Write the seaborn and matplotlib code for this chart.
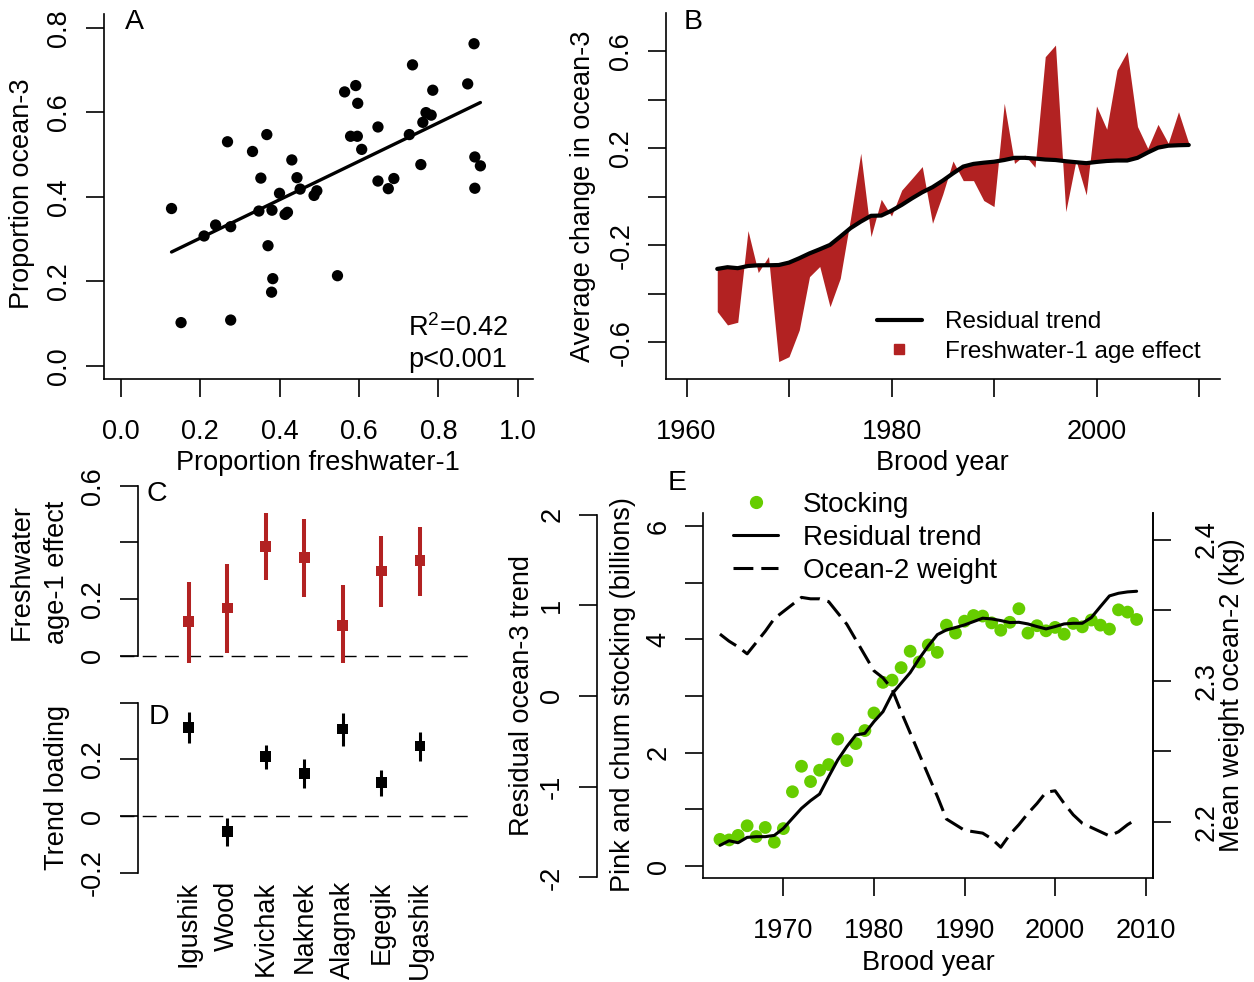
import numpy as np
import pandas as pd
import seaborn as sns
import matplotlib
matplotlib.use("Agg")
import matplotlib.pyplot as plt
from matplotlib.lines import Line2D

sns.set_theme(style="ticks")
plt.rcParams['font.family'] = ['Liberation Sans', 'DejaVu Sans']
plt.rcParams['mathtext.fontset'] = 'custom'
plt.rcParams['mathtext.rm'] = 'Liberation Sans'
plt.rcParams['mathtext.it'] = 'Liberation Sans:italic'
plt.rcParams['axes.linewidth'] = 1.2
for k in ['text.color', 'axes.labelcolor', 'xtick.color', 'ytick.color', 'axes.edgecolor']:
    plt.rcParams[k] = 'black'

# ---------------- data ----------------
# Panel A
a_fw1 = [0.128, 0.152, 0.210, 0.239, 0.277, 0.269, 0.277, 0.332, 0.348, 0.353,
         0.368, 0.371, 0.381, 0.383, 0.380, 0.400, 0.414, 0.420, 0.431, 0.444,
         0.452, 0.487, 0.494, 0.546, 0.564, 0.592, 0.597, 0.579, 0.596, 0.607,
         0.648, 0.648, 0.674, 0.688, 0.727, 0.735, 0.756, 0.761, 0.769, 0.782,
         0.786, 0.874, 0.890, 0.892, 0.906, 0.892]
a_oc3 = [0.372, 0.102, 0.307, 0.333, 0.329, 0.530, 0.108, 0.507, 0.366, 0.444,
         0.547, 0.284, 0.368, 0.206, 0.174, 0.408, 0.358, 0.363, 0.487, 0.445,
         0.418, 0.403, 0.414, 0.213, 0.648, 0.663, 0.621, 0.543, 0.543, 0.512,
         0.565, 0.437, 0.419, 0.443, 0.547, 0.712, 0.476, 0.576, 0.599, 0.593,
         0.652, 0.667, 0.762, 0.494, 0.473, 0.420]

# Panels B and E: brood years
years = list(range(1963, 2010))
b_trend = [-0.298, -0.291, -0.295, -0.286, -0.283, -0.283, -0.282, -0.272, -0.254, -0.234,
           -0.217, -0.199, -0.165, -0.130, -0.103, -0.079, -0.078, -0.058, -0.034, -0.007,
           0.018, 0.039, 0.066, 0.096, 0.124, 0.135, 0.140, 0.144, 0.151, 0.160,
           0.160, 0.157, 0.153, 0.151, 0.146, 0.142, 0.138, 0.143, 0.147, 0.149,
           0.149, 0.160, 0.182, 0.202, 0.210, 0.212, 0.213]
b_total = [-0.474, -0.529, -0.518, -0.140, -0.313, -0.247, -0.680, -0.660, -0.550, -0.330,
           -0.288, -0.454, -0.337, -0.090, 0.179, -0.165, -0.011, -0.080, 0.027, 0.075,
           0.124, -0.110, 0.010, 0.147, 0.066, 0.066, -0.016, -0.041, 0.385, 0.137,
           0.172, 0.121, 0.577, 0.625, -0.062, 0.150, 0.007, 0.374, 0.278, 0.522,
           0.598, 0.289, 0.199, 0.298, 0.220, 0.350, 0.220]

e_stock = [0.47, 0.46, 0.54, 0.71, 0.52, 0.68, 0.42, 0.66, 1.31, 1.76,
           1.49, 1.69, 1.79, 2.24, 1.86, 2.16, 2.39, 2.70, 3.24, 3.28,
           3.50, 3.79, 3.60, 3.90, 3.77, 4.25, 4.11, 4.32, 4.42, 4.41,
           4.29, 4.16, 4.30, 4.54, 4.11, 4.24, 4.15, 4.21, 4.09, 4.28,
           4.22, 4.34, 4.25, 4.18, 4.52, 4.48, 4.35]
e_trend = [-1.647, -1.596, -1.618, -1.559, -1.551, -1.551, -1.537, -1.460, -1.349, -1.239,
           -1.154, -1.081, -0.890, -0.706, -0.559, -0.430, -0.412, -0.283, -0.173, 0.022,
           0.140, 0.257, 0.412, 0.551, 0.676, 0.728, 0.754, 0.783, 0.820, 0.857,
           0.849, 0.831, 0.809, 0.812, 0.794, 0.765, 0.739, 0.765, 0.794, 0.801,
           0.801, 0.864, 0.985, 1.103, 1.132, 1.147, 1.154]
e_weight = [2.333, 2.328, 2.324, 2.319, 2.327, 2.335, 2.344, 2.349, 2.354, 2.359,
            2.358, 2.358, 2.356, 2.348, 2.340, 2.329, 2.318, 2.307, 2.302, 2.294,
            2.278, 2.263, 2.248, 2.233, 2.218, 2.202, 2.198, 2.194, 2.193, 2.192,
            2.188, 2.182, 2.191, 2.198, 2.206, 2.213, 2.221, 2.222, 2.213, 2.205,
            2.199, 2.196, 2.193, 2.190, 2.193, 2.198, 2.202]

# Panels C and D
rivers = ["Igushik", "Wood", "Kvichak", "Naknek", "Alagnak", "Egegik", "Ugashik"]
c_est = [0.120, 0.169, 0.387, 0.346, 0.107, 0.299, 0.335]
c_lo = [-0.030, 0.011, 0.267, 0.208, -0.030, 0.173, 0.212]
c_hi = [0.259, 0.324, 0.505, 0.481, 0.250, 0.422, 0.453]
d_est = [0.313, -0.055, 0.210, 0.151, 0.307, 0.118, 0.247]
d_lo = [0.257, -0.106, 0.165, 0.100, 0.247, 0.071, 0.195]
d_hi = [0.366, -0.008, 0.251, 0.200, 0.363, 0.163, 0.296]

# ---------------- figure ----------------
W, H = 1254, 982
fig = plt.figure(figsize=(W / 100, H / 100), dpi=100)
FS = 19.5
RED = "#B22222"
GREEN = "#66CD00"
TL = 12.7   # tick length (pt)


def add_ax(x0, y0, x1, y1):
    return fig.add_axes([x0 / W, 1 - y1 / H, (x1 - x0) / W, (y1 - y0) / H])


def ftext(x, y, s, **kw):
    kw.setdefault("fontsize", FS)
    kw.setdefault("ha", "center")
    kw.setdefault("va", "center")
    kw.setdefault("color", "black")
    fig.text(x / W, 1 - y / H, s, **kw)


def style(ax, left=True, bottom=True):
    for s in ["top", "right", "left", "bottom"]:
        ax.spines[s].set_visible(False)
    if left:
        ax.spines["left"].set_visible(True)
    if bottom:
        ax.spines["bottom"].set_visible(True)
    ax.tick_params(axis="both", direction="out", length=TL, width=1.2, colors="black",
                   labelsize=FS)
    ax.tick_params(axis="y", pad=10)
    ax.tick_params(axis="x", pad=16)
    ax.set_facecolor("none")


# ---------------- Panel A ----------------
axA = add_ax(104, 14, 533, 379)
dfA = pd.DataFrame({"fw1": a_fw1, "oc3": a_oc3})
sns.scatterplot(data=dfA, x="fw1", y="oc3", ax=axA, color="black", s=66,
                edgecolor="none", legend=False)
sns.regplot(data=dfA, x="fw1", y="oc3", ax=axA, scatter=False, ci=None,
            color="black", line_kws={"lw": 2.4})
axA.set_xlim(-0.0421, 1.0385)
axA.set_ylim(-0.0315, 0.8324)
style(axA)
axA.set_xticks([0, 0.2, 0.4, 0.6, 0.8, 1.0])
axA.set_xticklabels(["0.0", "0.2", "0.4", "0.6", "0.8", "1.0"])
axA.set_yticks([0, 0.2, 0.4, 0.6, 0.8])
axA.set_yticklabels(["0.0", "0.2", "0.4", "0.6", "0.8"], rotation=90, va="center")
axA.set_xlabel("")
axA.set_ylabel("")
ftext(318, 463, "Proportion freshwater-1")
ftext(22, 194, "Proportion ocean-3", rotation=90)
ftext(134, 22, "A", fontsize=20.5)
ftext(508, 328, "R$^{2}$=0.42", ha="right")
ftext(507, 360, "p<0.001", ha="right")

# ---------------- Panel B ----------------
axB = add_ax(666, 13.3, 1219.5, 379)
axB.fill_between(years, b_trend, b_total, color=RED, linewidth=0)
sns.lineplot(x=years, y=b_trend, ax=axB, color="black", lw=3.0)
axB.set_xlim(1958, 2012)
axB.set_ylim(-0.752, 0.756)
style(axB)
axB.set_xticks([1960, 1970, 1980, 1990, 2000, 2010])
axB.set_xticklabels(["1960", "", "1980", "", "2000", ""])
axB.set_yticks([-0.6, -0.4, -0.2, 0, 0.2, 0.4, 0.6])
axB.set_yticklabels(["-0.6", "", "-0.2", "", "0.2", "", "0.6"], rotation=90, va="center")
ftext(942, 463, "Brood year")
ftext(583, 196, "Average change in ocean-3", rotation=90)
ftext(693, 22, "B", fontsize=20.5)
hB = [Line2D([], [], color="black", lw=3.0),
      Line2D([], [], color=RED, marker="s", ls="none", markersize=7)]
axB.legend(hB, ["Residual trend", "Freshwater-1 age effect"], frameon=False,
           fontsize=17.5, loc="upper left", bbox_to_anchor=(877 / W, 1 - 311 / H),
           bbox_transform=fig.transFigure, borderpad=0, borderaxespad=0,
           handlelength=1.85, handletextpad=0.95, labelspacing=0.32)

# ---------------- Panel C ----------------
pos = list(range(1, 8))
axC = add_ax(137.7, 478.9, 470.8, 662.7)
axC.set_xlim(-0.32, 8.32)
axC.set_ylim(-0.024, 0.624)
axC.axhline(0, xmin=-0.053, xmax=1, color="black", lw=1.0, ls=(0, (10, 6)), clip_on=False)
axC.vlines(pos, c_lo, c_hi, color=RED, lw=2.9)
sns.scatterplot(x=pos, y=c_est, ax=axC, color=RED, marker="s", s=60, edgecolor="none",
                legend=False)
style(axC, bottom=False)
axC.spines["left"].set_bounds(0, 0.6)
axC.set_xticks([])
axC.set_yticks([0, 0.2, 0.4, 0.6])
axC.set_yticklabels(["0", "0.2", "", "0.6"], rotation=90, va="center")
ftext(157, 494, "C", fontsize=20.5)
ftext(22, 572, "Freshwater", rotation=90)
ftext(57, 572, "age-1 effect", rotation=90)

# ---------------- Panel D ----------------
axD = add_ax(137.7, 696, 470.8, 879.4)
axD.set_xlim(-0.32, 8.32)
axD.set_ylim(-0.224, 0.424)
axD.axhline(0, xmin=-0.053, xmax=1, color="black", lw=1.0, ls=(0, (10, 6)), clip_on=False)
axD.vlines(pos, d_lo, d_hi, color="black", lw=2.2)
sns.scatterplot(x=pos, y=d_est, ax=axD, color="black", marker="s", s=60, edgecolor="none",
                legend=False)
style(axD, bottom=False)
axD.spines["left"].set_bounds(-0.2, 0.4)
axD.set_yticks([-0.2, 0, 0.2, 0.4])
axD.set_yticklabels(["-0.2", "0", "0.2", ""], rotation=90, va="center")
axD.set_xticks(pos)
axD.set_xticklabels(rivers, rotation=90, ha="center", va="top")
axD.tick_params(axis="x", length=0, pad=1)
ftext(159, 717, "D", fontsize=20.5)
ftext(57, 787, "Trend loading", rotation=90)

# ---------------- Panel E ----------------
axE = add_ax(703.3, 512.7, 1153.3, 878.3)
axR = axE.twinx()
axW = axE.twinx()
axE.set_xlim(1961.16, 2010.84)
sns.scatterplot(x=years, y=e_stock, ax=axE, color=GREEN, s=85, edgecolor="none",
                legend=False, zorder=3)
axE.set_ylim(-0.217, 6.234)
style(axE)
axE.spines["right"].set_visible(True)
axE.set_xticks([1970, 1980, 1990, 2000, 2010])
axE.set_xticklabels(["1970", "1980", "1990", "2000", "2010"])
axE.set_yticks([0, 1, 2, 3, 4, 5, 6])
axE.set_yticklabels(["0", "", "2", "", "4", "", "6"], rotation=90, va="center")

sns.lineplot(x=years, y=e_trend, ax=axR, color="black", lw=2.2)
axR.set_ylim(-2.01, 2.02)
for s in ["top", "right", "bottom"]:
    axR.spines[s].set_visible(False)
axR.spines["left"].set_visible(True)
axR.spines["left"].set_position(("outward", 76.75))
axR.spines["left"].set_bounds(-2, 2)
axR.yaxis.tick_left()
axR.tick_params(axis="y", direction="out", length=TL, width=1.2, labelsize=FS, pad=10,
                left=True, right=False, labelleft=True, labelright=False, colors="black")
axR.set_yticks([-2, -1, 0, 1, 2])
axR.set_yticklabels(["-2", "-1", "0", "1", "2"], rotation=90, va="center")
axR.set_ylabel("")

sns.lineplot(x=years, y=e_weight, ax=axW, color="black", lw=2.2, linestyle=(0, (6.5, 2.6)))
axW.set_ylim(2.160, 2.419)
for s in ["top", "left", "bottom"]:
    axW.spines[s].set_visible(False)
axW.spines["right"].set_visible(True)
axW.tick_params(axis="y", direction="out", length=TL, width=1.2, labelsize=FS, pad=16,
                right=True, labelright=True, colors="black")
axW.set_yticks([2.2, 2.25, 2.3, 2.35, 2.4])
axW.set_yticklabels(["2.2", "", "2.3", "", "2.4"], rotation=90, va="center")
axW.set_ylabel("")

ftext(928, 963, "Brood year")
ftext(522, 695, "Residual ocean-3 trend", rotation=90)
ftext(623, 695, "Pink and chum stocking (billions)", rotation=90)
ftext(1232, 695, "Mean weight ocean-2 (kg)", rotation=90)
ftext(677, 483, "E", fontsize=20.5)
hE = [Line2D([], [], color=GREEN, marker="o", ls="none", markersize=8.5),
      Line2D([], [], color="black", lw=2.2),
      Line2D([], [], color="black", lw=2.2, ls=(0, (6.5, 2.6)))]
axW.legend(hE, ["Stocking", "Residual trend", "Ocean-2 weight"], frameon=False,
           fontsize=20, loc="upper left", bbox_to_anchor=(733 / W, 1 - 492 / H),
           bbox_transform=fig.transFigure, borderpad=0, borderaxespad=0,
           handlelength=1.62, handletextpad=0.9, labelspacing=0.25)

fig.savefig("out.png", dpi=100)
